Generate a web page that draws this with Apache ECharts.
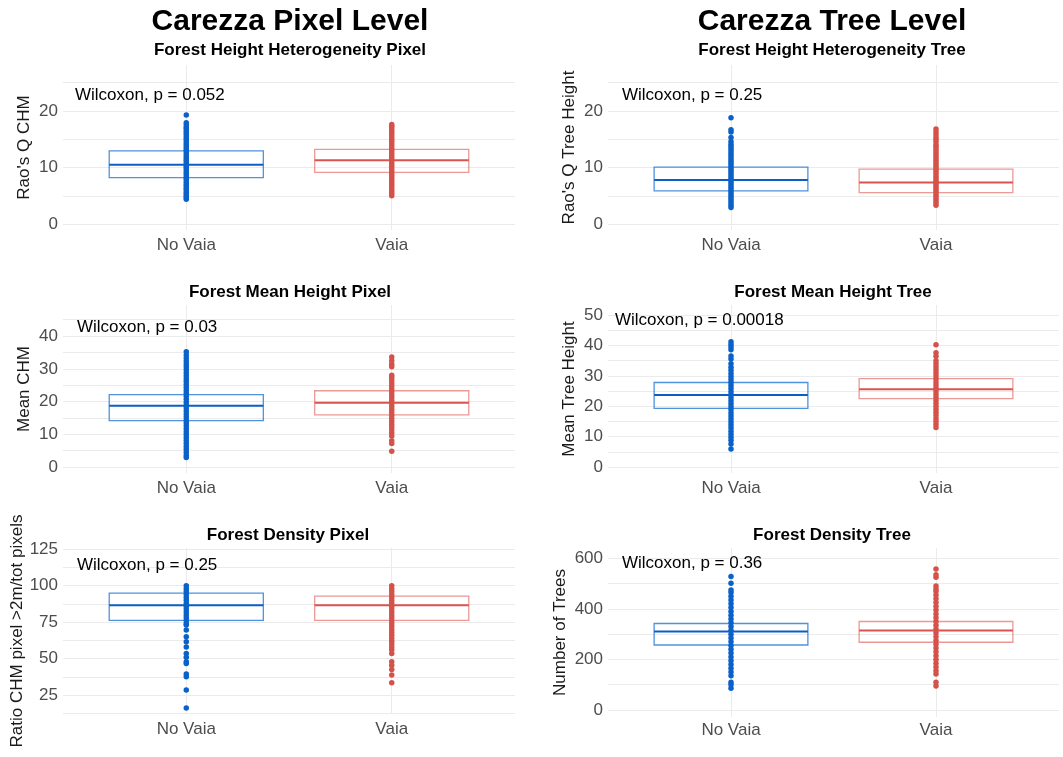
<!DOCTYPE html>
<html>
<head>
<meta charset="utf-8">
<script src="https://cdn.jsdelivr.net/npm/echarts@6/dist/echarts.min.js"></script>
<style>
  html, body { margin: 0; padding: 0; background: #fff; }
  #chart { width: 1063px; height: 757px; }
</style>
</head>
<body>
<div id="chart"></div>
<script>
// ---- data ----
const categories = ['No Vaia', 'Vaia'];

// Forest Height Heterogeneity (Rao's Q)
const hetPxNoVaia = [4.4, 4.7, 5.0, 5.3, 5.6, 6.0, 6.3, 6.7, 7.0, 7.4, 7.8, 8.1, 8.5, 8.9, 9.2, 9.6, 10.0, 10.3, 10.7, 11.1, 11.4, 11.8, 12.2, 12.6, 13.0, 13.3, 13.7, 14.1, 14.5, 14.9, 15.2, 15.6, 16.0, 16.4, 16.8, 17.1, 17.5, 17.9, 19.3];
const hetPxVaia = [5.0, 5.4, 5.8, 6.2, 6.6, 7.0, 7.4, 7.8, 8.2, 8.6, 9.0, 9.4, 9.8, 10.2, 10.6, 11.0, 11.4, 11.8, 12.2, 12.6, 13.0, 13.4, 13.8, 14.2, 14.6, 15.0, 15.4, 15.8, 16.2, 16.6, 17.0, 17.3, 17.6];
const hetTrNoVaia = [2.9, 3.3, 3.7, 4.1, 4.5, 4.9, 5.3, 5.7, 6.1, 6.5, 6.9, 7.3, 7.7, 8.1, 8.5, 8.9, 9.3, 9.7, 10.1, 10.5, 10.9, 11.3, 11.7, 12.1, 12.5, 12.9, 13.3, 13.7, 14.1, 14.6, 15.3, 16.3, 16.7, 18.8];
const hetTrVaia = [3.3, 3.7, 4.1, 4.5, 4.9, 5.3, 5.7, 6.1, 6.5, 6.9, 7.3, 7.7, 8.1, 8.5, 8.9, 9.3, 9.7, 10.1, 10.5, 10.9, 11.3, 11.7, 12.1, 12.5, 12.9, 13.3, 13.7, 14.0, 14.5, 14.9, 15.3, 15.8, 16.3, 16.8];

// Forest Mean Height
const meanPxNoVaia = [2.9, 3.6, 4.5, 5.4, 6.3, 7.2, 8.1, 9.0, 9.9, 10.8, 11.7, 12.6, 13.5, 14.4, 15.3, 16.2, 17.1, 18.0, 18.9, 19.8, 20.7, 21.6, 22.5, 23.4, 24.3, 25.2, 26.1, 27.0, 27.9, 28.8, 29.7, 30.6, 31.5, 32.4, 33.3, 34.2, 35.2];
const meanPxVaia = [4.8, 7.2, 8.0, 9.5, 10.4, 11.3, 12.2, 13.1, 14.0, 14.9, 15.8, 16.7, 17.6, 18.5, 19.4, 20.3, 21.2, 22.1, 23.0, 23.9, 24.8, 25.7, 26.6, 27.4, 28.0, 30.6, 31.4, 32.5, 33.6];
const meanTrNoVaia = [5.9, 7.6, 8.8, 9.8, 10.8, 11.8, 12.8, 13.8, 14.8, 15.8, 16.8, 17.8, 18.8, 19.8, 20.8, 21.8, 22.8, 23.8, 24.8, 25.8, 26.8, 27.8, 28.8, 29.8, 30.8, 31.8, 32.8, 34.0, 35.5, 36.5, 38.6, 39.5, 40.3, 41.2];
const meanTrVaia = [13.0, 14.0, 15.0, 16.0, 17.0, 18.0, 19.0, 20.0, 21.0, 22.0, 23.0, 24.0, 25.0, 26.0, 27.0, 28.0, 29.0, 30.0, 31.0, 32.0, 33.0, 34.0, 35.0, 36.4, 37.6, 40.2];

// Forest Density
const densPxNoVaia = [100, 98, 96, 94, 92, 90, 88, 86, 84, 82, 80, 78, 76, 74, 73, 69.6, 65, 61.5, 58, 53.5, 51, 47.8, 46.7, 39.4, 37.5, 28.4, 16.2];
const densPxVaia = [100, 98, 96, 94, 92, 90, 88, 86, 84, 82, 80, 78, 76, 74, 72, 70, 68, 66, 64, 62, 60, 58, 56, 53.5, 47.8, 45.5, 42.5, 38.7, 33.4];
const densTrNoVaia = [86, 100, 110, 135, 150, 165, 180, 195, 210, 225, 240, 255, 270, 285, 300, 315, 330, 345, 360, 375, 390, 405, 420, 435, 450, 465, 475, 501, 528];
const densTrVaia = [95, 110, 142, 155, 170, 185, 200, 215, 230, 245, 260, 275, 290, 305, 320, 335, 350, 365, 380, 395, 410, 425, 440, 455, 470, 479, 490, 525, 535, 558];

// box stats: [q1, median, q3] for No Vaia, Vaia
const hetPxBox = [[8.2, 10.5, 12.95], [9.15, 11.3, 13.2]];
const hetTrBox = [[5.85, 7.8, 10.05], [5.55, 7.35, 9.7]];
const meanPxBox = [[14.2, 18.7, 22.1], [15.9, 19.6, 23.3]];
const meanTrBox = [[19.3, 23.7, 27.8], [22.5, 25.6, 29.1]];
const densPxBox = [[76.2, 86.7, 95.0], [76.2, 86.7, 92.9]];
const densTrBox = [[257, 310, 342], [268, 314, 350]];

// tick labels and grid lines
const hetTicks = [0, 10, 20];
const hetGrid = [0, 5, 10, 15, 20, 25];
const meanPxTicks = [0, 10, 20, 30, 40];
const meanPxGrid = [0, 5, 10, 15, 20, 25, 30, 35, 40, 45];
const meanTrTicks = [0, 10, 20, 30, 40, 50];
const meanTrGrid = [0, 5, 10, 15, 20, 25, 30, 35, 40, 45, 50];
const densPxTicks = [25, 50, 75, 100, 125];
const densPxGrid = [12.5, 25, 37.5, 50, 62.5, 75, 87.5, 100, 112.5, 125];
const densTrTicks = [0, 200, 400, 600];
const densTrGrid = [0, 100, 200, 300, 400, 500, 600];

const mainTitles = ['Carezza Pixel Level', 'Carezza Tree Level'];
const subTitles = ['Forest Height Heterogeneity Pixel', 'Forest Height Heterogeneity Tree',
  'Forest Mean Height Pixel', 'Forest Mean Height Tree',
  'Forest Density Pixel', 'Forest Density Tree'];
const yNames = ["Rao's Q CHM", "Rao's Q Tree Height", 'Mean CHM', 'Mean Tree Height',
  'Ratio CHM pixel >2m/tot pixels', 'Number of Trees'];
const pLabels = ['Wilcoxon, p = 0.052', 'Wilcoxon, p = 0.25', 'Wilcoxon, p = 0.03',
  'Wilcoxon, p = 0.00018', 'Wilcoxon, p = 0.25', 'Wilcoxon, p = 0.36'];

// ---- layout ----
const FONT = "'Liberation Sans', Arial, sans-serif";
const panels = [
  {pts: [hetPxNoVaia, hetPxVaia], box: hetPxBox, ticks: hetTicks, grid: hetGrid, min: -1.06, max: 28.14,
    rect: {left: 63, top: 65, width: 452, height: 165}, gap: 30, lm: 7, sub: [290, 50], p: [75, 95]},
  {pts: [hetTrNoVaia, hetTrVaia], box: hetTrBox, ticks: hetTicks, grid: hetGrid, min: -1.06, max: 28.14,
    rect: {left: 608, top: 65, width: 451, height: 165}, gap: 30, lm: 7, sub: [832, 50], p: [622, 95]},
  {pts: [meanPxNoVaia, meanPxVaia], box: meanPxBox, ticks: meanPxTicks, grid: meanPxGrid, min: -1.83, max: 49.5,
    rect: {left: 63, top: 305, width: 452, height: 168}, gap: 30, lm: 7, sub: [290, 292], p: [77, 327]},
  {pts: [meanTrNoVaia, meanTrVaia], box: meanTrBox, ticks: meanTrTicks, grid: meanTrGrid, min: -1.97, max: 53.3,
    rect: {left: 608, top: 305, width: 451, height: 168}, gap: 30, lm: 7, sub: [833, 292], p: [615, 320]},
  {pts: [densPxNoVaia, densPxVaia], box: densPxBox, ticks: densPxTicks, grid: densPxGrid, min: 12.0, max: 125.9,
    rect: {left: 63, top: 548, width: 452, height: 166}, gap: 36, lm: 7, sub: [288, 535], p: [77, 565]},
  {pts: [densTrNoVaia, densTrVaia], box: densTrBox, ticks: densTrTicks, grid: densTrGrid, min: -27.7, max: 640.7,
    rect: {left: 608, top: 548, width: 451, height: 169}, gap: 39, lm: 5, sub: [832, 535], p: [622, 563]}
];

const pointColors = ['#0a62c9', '#d5524a'];
const boxColors = ['rgba(20,110,210,0.75)', 'rgba(220,85,78,0.6)'];
const medColors = ['#0b5fc4', '#d9534f'];

function renderBox(params, api) {
  const x = api.value(0), q1 = api.value(1), med = api.value(2), q3 = api.value(3);
  const i = Math.round(x) - 1;
  const a = api.coord([x - 0.375, q3]);
  const b = api.coord([x + 0.375, q1]);
  const m1 = api.coord([x - 0.375, med]);
  const m2 = api.coord([x + 0.375, med]);
  return {
    type: 'group',
    children: [
      {type: 'rect', shape: {x: a[0], y: a[1], width: b[0] - a[0], height: b[1] - a[1]},
        style: {fill: 'none', stroke: boxColors[i], lineWidth: 1.3}},
      {type: 'line', shape: {x1: m1[0], y1: m1[1], x2: m2[0], y2: m2[1]},
        style: {stroke: medColors[i], lineWidth: 2}}
    ]
  };
}

const option = {
  backgroundColor: '#fff',
  animation: false,
  grid: [], xAxis: [], yAxis: [], series: [], graphic: []
};

panels.forEach((p, k) => {
  option.grid.push(Object.assign({containLabel: false}, p.rect));
  option.xAxis.push({
    type: 'value', gridIndex: k, min: 0.4, max: 2.6,
    axisLine: {show: false},
    axisTick: {show: false, customValues: [1, 2]},
    axisLabel: {
      customValues: [1, 2], margin: p.lm,
      formatter: v => categories[Math.round(v) - 1],
      color: '#4d4d4d', fontSize: 17, fontFamily: FONT
    },
    splitLine: {show: true, lineStyle: {color: '#ebebeb', width: 1}}
  });
  option.yAxis.push({
    type: 'value', gridIndex: k, min: p.min, max: p.max,
    name: yNames[k], nameLocation: 'middle', nameGap: p.gap, nameRotate: 90,
    nameTextStyle: {color: '#1a1a1a', fontSize: 17, fontFamily: FONT},
    axisLine: {show: false},
    axisTick: {show: false, customValues: p.grid},
    axisLabel: {customValues: p.ticks, margin: 5, color: '#4d4d4d', fontSize: 17, fontFamily: FONT},
    splitLine: {show: true, lineStyle: {color: '#ebebeb', width: 1}}
  });
  option.series.push({
    type: 'custom', xAxisIndex: k, yAxisIndex: k,
    renderItem: renderBox,
    data: p.box.map((s, i) => [i + 1, s[0], s[1], s[2]]),
    z: 2
  });
  p.pts.forEach((vals, i) => {
    option.series.push({
      type: 'scatter', xAxisIndex: k, yAxisIndex: k,
      symbolSize: 5.5,
      itemStyle: {color: pointColors[i], opacity: 1},
      data: vals.map(v => [i + 1, v]),
      z: 3
    });
  });
  option.graphic.push({
    type: 'text', x: p.sub[0], y: p.sub[1], z: 100,
    style: {text: subTitles[k], fill: '#000', font: 'bold 17px ' + FONT, textAlign: 'center', textVerticalAlign: 'middle'}
  });
  option.graphic.push({
    type: 'text', x: p.p[0], y: p.p[1], z: 100,
    style: {text: pLabels[k], fill: '#000', font: '17px ' + FONT, textAlign: 'left', textVerticalAlign: 'middle'}
  });
});

option.graphic.push({
  type: 'text', x: 290, y: 22, z: 100,
  style: {text: mainTitles[0], fill: '#000', font: 'bold 30px ' + FONT, textAlign: 'center', textVerticalAlign: 'middle'}
});
option.graphic.push({
  type: 'text', x: 832, y: 22, z: 100,
  style: {text: mainTitles[1], fill: '#000', font: 'bold 30px ' + FONT, textAlign: 'center', textVerticalAlign: 'middle'}
});

const chart = echarts.init(document.getElementById('chart'));
chart.setOption(option);
</script>
</body>
</html>
